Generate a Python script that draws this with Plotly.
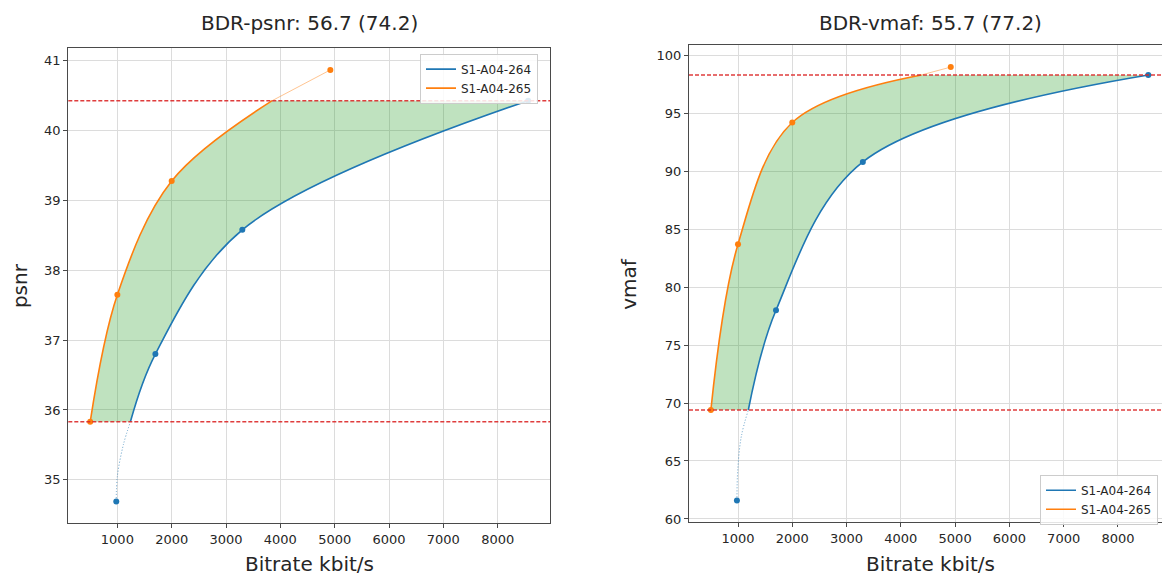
import plotly.graph_objects as go

# ---- data ----
names = ["S1-A04-264", "S1-A04-265"]
titles = ["BDR-psnr: 56.7 (74.2)", "BDR-vmaf: 55.7 (77.2)"]
ylabels = ["psnr", "vmaf"]
xlabel = "Bitrate kbit/s"
x_ticks = [1000, 2000, 3000, 4000, 5000, 6000, 7000, 8000]

rate_264 = [980, 1700, 3300, 8560]
rate_265 = [500, 1000, 2000, 4920]
psnr_264 = [34.69, 36.80, 38.58, 40.43]
psnr_265 = [35.83, 37.65, 39.28, 40.87]
vmaf_264 = [61.6, 78.0, 90.8, 98.3]
vmaf_265 = [69.4, 83.7, 94.2, 98.98]

# rates where the fitted curves meet the common quality bounds
psnr_265_top_rate = 3850
psnr_264_low_rate = 1240
vmaf_265_top_rate = 4380
vmaf_264_low_rate = 1190
# points along the dotted lower tail of the 264 curve
psnr_264_tail_rate = [1000, 1110]
psnr_264_tail_q = [35.05, 35.50]
vmaf_264_tail_rate = [995, 1060]
vmaf_264_tail_q = [64.2, 67.1]

psnr_ticks = [35, 36, 37, 38, 39, 40, 41]
vmaf_ticks = [60, 65, 70, 75, 80, 85, 90, 95, 100]

BLUE = "#1f77b4"
ORANGE = "#ff7f0e"
FONT = "DejaVu Sans"
W, H = 1162, 582

fig = go.Figure()


def add_panel(xa, ya, leg, r264, q264, r265, q265, top265, low264, tail_r, tail_q):
    lo = max(min(q264), min(q265))
    hi = min(max(q264), max(q265))
    o_r = [r for r, q in zip(r265, q265) if lo <= q <= hi] + [top265]
    o_q = [q for q in q265 if lo <= q <= hi] + [hi]
    b_r = [low264] + [r for r, q in zip(r264, q264) if lo <= q <= hi]
    b_q = [lo] + [q for q in q264 if lo <= q <= hi]
    over_r = [top265] + [r for r, q in zip(r265, q265) if q > hi]
    over_q = [hi] + [q for q in q265 if q > hi]
    under_r = [r for r, q in zip(r264, q264) if q < lo] + tail_r + [low264]
    under_q = [q for q in q264 if q < lo] + tail_q + [lo]

    common = dict(xaxis=xa, yaxis=ya, hoverinfo="skip")
    # fill region between the two curves
    fig.add_trace(go.Scatter(x=o_r, y=o_q, mode="lines", line=dict(width=0, shape="spline"),
                             showlegend=False, **common))
    fig.add_trace(go.Scatter(x=b_r, y=b_q, mode="lines", line=dict(width=0, shape="spline"),
                             fill="tonexty", fillcolor="rgba(44,160,44,0.3)",
                             showlegend=False, **common))
    # tails outside the common range
    fig.add_trace(go.Scatter(x=under_r, y=under_q, mode="lines",
                             line=dict(width=1, color=BLUE, dash="1px,2px", shape="spline"),
                             opacity=0.7, showlegend=False, **common))
    fig.add_trace(go.Scatter(x=over_r, y=over_q, mode="lines",
                             line=dict(width=1, color=ORANGE, shape="spline"),
                             opacity=0.45, showlegend=False, **common))
    # main curves
    fig.add_trace(go.Scatter(x=b_r, y=b_q, mode="lines", name=names[0], legend=leg,
                             line=dict(width=1.6, color=BLUE, shape="spline"), **common))
    fig.add_trace(go.Scatter(x=o_r, y=o_q, mode="lines", name=names[1], legend=leg,
                             line=dict(width=1.6, color=ORANGE, shape="spline"), **common))
    # measured points
    fig.add_trace(go.Scatter(x=r264, y=q264, mode="markers", marker=dict(size=6, color=BLUE),
                             showlegend=False, **common))
    fig.add_trace(go.Scatter(x=r265, y=q265, mode="markers", marker=dict(size=6, color=ORANGE),
                             showlegend=False, **common))
    # common quality bounds
    for yv in (lo, hi):
        fig.add_shape(type="line", xref=xa + " domain", yref=ya, x0=0, x1=1, y0=yv, y1=yv,
                      line=dict(color="rgba(220,40,40,0.9)", width=1.5, dash="4px,2px"))


add_panel("x", "y", "legend", rate_264, psnr_264, rate_265, psnr_265,
          psnr_265_top_rate, psnr_264_low_rate, psnr_264_tail_rate, psnr_264_tail_q)
add_panel("x2", "y2", "legend2", rate_264, vmaf_264, rate_265, vmaf_265,
          vmaf_265_top_rate, vmaf_264_low_rate, vmaf_264_tail_rate, vmaf_264_tail_q)

axis_common = dict(showgrid=True, gridcolor="#dcdcdc", gridwidth=1, showline=True,
                   linecolor="#4a4a4a", linewidth=1.2, ticks="outside", ticklen=4,
                   tickcolor="#4a4a4a", tickfont=dict(family=FONT, size=13, color="#262626"),
                   zeroline=False)

legend_common = dict(xanchor="left", yanchor="top", traceorder="normal",
                     bgcolor="rgba(255,255,255,0.85)", bordercolor="#cccccc", borderwidth=1,
                     font=dict(family=FONT, size=12, color="#262626"), itemwidth=30)

fig.update_layout(
    width=W, height=H,
    margin=dict(l=0, r=0, t=0, b=0),
    paper_bgcolor="white", plot_bgcolor="white",
    font=dict(family=FONT, color="#262626"),
    xaxis=dict(domain=[68.3 / W, 550 / W], range=[97, 8963], tickvals=x_ticks,
               mirror=True, anchor="y", **axis_common),
    yaxis=dict(domain=[1 - 526.6 / H, 1 - 48.7 / H], range=[34.381, 41.179], tickvals=psnr_ticks,
               mirror=True, anchor="x", **axis_common),
    xaxis2=dict(domain=[689 / W, 1.0], range=[97, 8812], tickvals=x_ticks,
                mirror=True, anchor="y2", **axis_common),
    yaxis2=dict(domain=[1 - 525.7 / H, 1 - 45.7 / H], range=[59.73, 100.85], tickvals=vmaf_ticks,
                mirror=False, anchor="x2", **axis_common),
    legend=dict(x=420 / W, y=1 - 54 / H, **legend_common),
    legend2=dict(x=1040 / W, y=1 - 478 / H, **legend_common),
    showlegend=True,
)

# titles and axis labels
ann = []
for cx, t in zip([309.5 / W, 930 / W], titles):
    ann.append(dict(x=cx, y=1 - 23 / H, xref="paper", yref="paper", text=t, showarrow=False,
                    font=dict(family=FONT, size=20, color="#262626"), xanchor="center", yanchor="middle"))
for cx in [309.5 / W, 930 / W]:
    ann.append(dict(x=cx, y=1 - 567.6 / H, xref="paper", yref="paper", text=xlabel, showarrow=False,
                    font=dict(family=FONT, size=20, color="#262626"), xanchor="center", yanchor="middle"))
for cx, cy, t in zip([19.5 / W, 629 / W], [1 - 287.6 / H, 1 - 285.7 / H], ylabels):
    ann.append(dict(x=cx, y=cy, xref="paper", yref="paper", text=t, showarrow=False, textangle=-90,
                    font=dict(family=FONT, size=20, color="#262626"), xanchor="center", yanchor="middle"))
fig.update_layout(annotations=ann)

fig.write_html("out.html", config={"displayModeBar": False},
               post_script="document.body.style.margin='0';document.body.style.overflow='hidden';")
